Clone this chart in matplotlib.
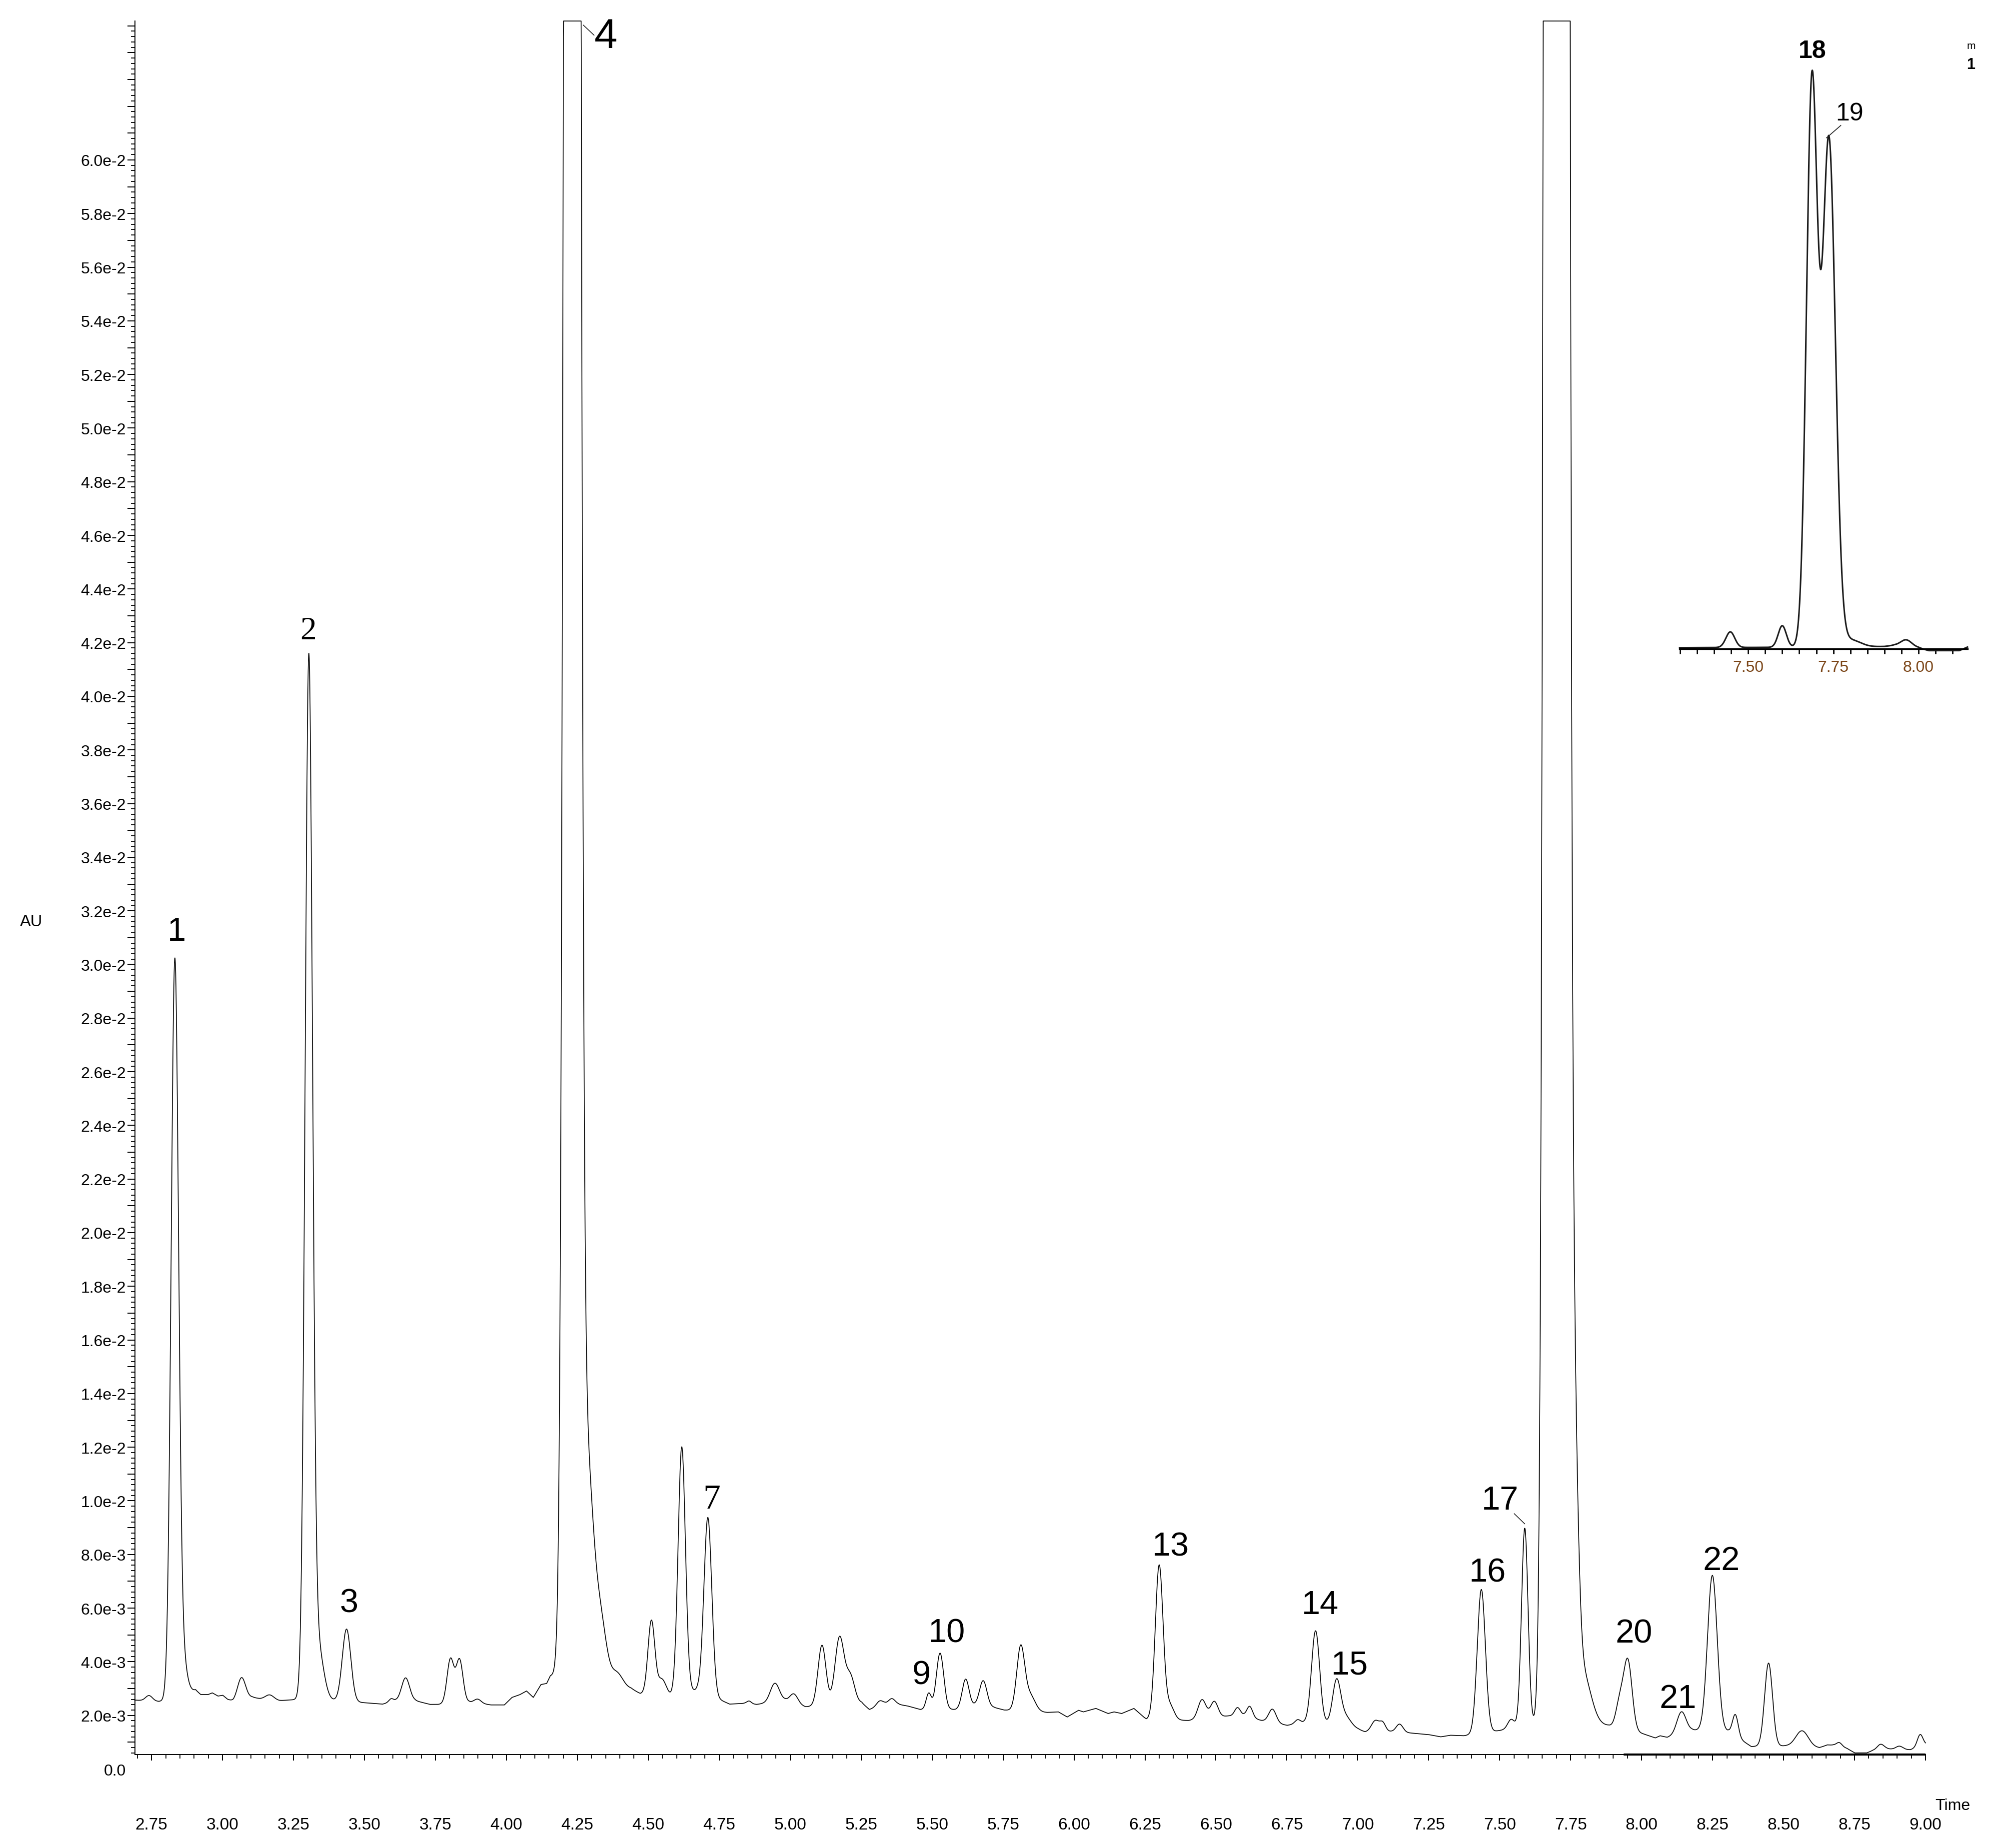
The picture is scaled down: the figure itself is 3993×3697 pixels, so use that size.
import numpy as np
import matplotlib
matplotlib.use("Agg")
import matplotlib.pyplot as plt
from matplotlib.ticker import MultipleLocator, FuncFormatter

plt.rcParams['font.family'] = ['Liberation Sans', 'DejaVu Sans']

# ---------------- data (absorbance in 1e-3 AU, time in min) ----------------
baseline_t = [2.6908, 2.775, 2.81, 2.85, 2.883, 2.905, 2.923, 2.95, 2.964, 2.984, 3.001, 3.018, 3.038,
              3.105, 3.132, 3.20, 3.26, 3.30, 3.395, 3.516, 3.564, 3.611, 3.678, 3.731, 3.761, 3.869,
              3.946, 3.993, 4.020, 4.047, 4.071, 4.095, 4.122, 4.142, 4.155, 4.175, 4.30, 4.44, 4.472,
              4.579, 4.674, 4.787, 4.841, 4.882, 4.983, 5.054, 5.252, 5.279, 5.333, 5.380, 5.414, 5.458,
              5.583, 5.651, 5.717, 5.754, 5.905, 5.945, 5.976, 6.016, 6.033, 6.077, 6.120, 6.141, 6.168,
              6.211, 6.255, 6.404, 6.542, 6.599, 6.660, 6.751, 6.811, 6.895, 7.002, 7.026, 7.117, 7.201,
              7.251, 7.292, 7.326, 7.373, 7.508, 7.60, 7.882, 8.006, 8.048, 8.065, 8.090, 8.177, 8.306,
              8.386, 8.508, 8.626, 8.654, 8.675, 8.723, 8.751, 8.793, 8.814, 8.863, 8.946, 9.0]
baseline_v = [2.57, 2.52, 2.55, 2.70, 2.83, 2.95, 2.78, 2.78, 2.84, 2.72, 2.75, 2.60, 2.52,
              2.68, 2.62, 2.55, 2.59, 2.60, 2.55, 2.46, 2.42, 2.55, 2.55, 2.41, 2.41, 2.50,
              2.39, 2.39, 2.67, 2.77, 2.91, 2.67, 3.15, 3.19, 3.47, 3.50, 3.20, 3.00, 2.81,
              2.72, 2.95, 2.42, 2.45, 2.41, 2.55, 2.32, 2.47, 2.22, 2.40, 2.41, 2.35, 2.22,
              2.22, 2.38, 2.30, 2.20, 2.11, 2.13, 1.94, 2.19, 2.13, 2.26, 2.07, 2.13, 2.07,
              2.26, 1.85, 1.81, 1.98, 2.00, 1.81, 1.63, 1.73, 1.70, 1.48, 1.38, 1.40, 1.33,
              1.28, 1.20, 1.26, 1.24, 1.45, 1.60, 1.62, 1.31, 1.16, 1.24, 1.18, 1.45, 1.40,
              0.84, 0.86, 0.79, 0.90, 0.89, 0.77, 0.60, 0.60, 0.69, 0.75, 0.72, 0.90]

peak_rt = [2.741, 2.832, 2.860, 3.067, 3.166, 3.304, 3.335, 3.437, 3.594, 3.645, 3.803, 3.835, 3.899,
           4.232, 4.283, 4.330, 4.390, 4.511, 4.548, 4.618, 4.710, 4.855, 4.946, 5.013, 5.112, 5.174,
           5.212, 5.316, 5.358, 5.488, 5.528, 5.618, 5.680, 5.812, 5.845, 6.300, 6.337, 6.451, 6.494,
           6.576, 6.619, 6.699, 6.788, 6.851, 6.925, 6.955, 7.062, 7.088, 7.147, 7.435, 7.540, 7.588,
           7.700, 7.760, 7.790, 7.922, 7.951, 8.140, 8.249, 8.330, 8.447, 8.565, 8.696, 8.842, 8.908,
           8.981]
peak_height = [0.20, 27.4, 1.2, 0.82, 0.18, 38.4, 2.0, 2.7, 0.12, 0.85, 1.65, 1.6, 0.15,
               325.0, 8.0, 2.4, 0.5, 2.75, 0.6, 9.2, 6.6, 0.10, 0.7, 0.35, 2.25, 2.5,
               1.0, 0.2, 0.22, 0.6, 2.1, 1.05, 0.95, 2.35, 0.6, 5.75, 0.55, 0.72, 0.6,
               0.3, 0.4, 0.5, 0.15, 3.44, 1.6, 0.4, 0.42, 0.3, 0.3, 5.36, 0.35, 7.4,
               1226.0, 10.0, 2.0, 0.9, 2.6, 0.8, 5.8, 0.8, 3.1, 0.6, 0.15, 0.2, 0.12,
               0.45]
peak_width = [0.012, 0.013, 0.015, 0.014, 0.015, 0.0129, 0.020, 0.015, 0.008, 0.014, 0.012, 0.012, 0.012,
              0.017, 0.022, 0.022, 0.020, 0.012, 0.015, 0.0129, 0.0138, 0.008, 0.016, 0.014, 0.014, 0.016,
              0.015, 0.012, 0.012, 0.009, 0.013, 0.012, 0.013, 0.014, 0.018, 0.0137, 0.015, 0.014, 0.013,
              0.010, 0.010, 0.013, 0.010, 0.0143, 0.014, 0.020, 0.014, 0.010, 0.012, 0.0143, 0.012, 0.0115,
              0.0194, 0.015, 0.030, 0.013, 0.015, 0.016, 0.017, 0.010, 0.0139, 0.022, 0.010, 0.012, 0.012,
              0.010]

peak_labels = ["1", "2", "3", "4", "7", "9", "10", "13", "14", "15", "16", "17", "20", "21", "22"]
label_t = [2.838, 3.3016, 3.446, 4.350, 4.723, 5.462, 5.552, 6.340, 6.867, 6.972, 7.457, 7.501, 7.972, 8.128, 8.281]
label_v = [31.35, 42.58, 6.31, 64.74, 10.2, 3.62, 5.19, 8.42, 6.25, 3.99, 7.44, 10.13, 5.17, 2.74, 7.88]

# inset (relative units)
inset_base_t = [7.2985, 7.85, 7.90, 7.93, 8.00, 8.03, 8.12, 8.144]
inset_base_v = [0.002, 0.003, 0.004, 0.006, 0.002, -0.003, -0.003, 0.003]
inset_rt = [7.4475, 7.600, 7.687, 7.737, 7.800, 7.964]
inset_height = [0.026, 0.036, 0.934, 0.845, 0.012, 0.011]
inset_width = [0.013, 0.012, 0.016, 0.019, 0.030, 0.016]

# ---------------- figure ----------------
W, H = 3993, 3698
fig = plt.figure(figsize=(W / 100, H / 100), dpi=100)

x_lo, x_hi = 2.6908, 9.0
y_lo, y_hi = 0.00055, 0.06519
ax_l, ax_r, ax_b, ax_t = 269.6, 3852.0, 3510.5, 42.5
ax = fig.add_axes([ax_l / W, 1 - ax_b / H, (ax_r - ax_l) / W, (ax_b - ax_t) / H])
ax.set_xlim(x_lo, x_hi)
ax.set_ylim(y_lo, y_hi)

t = np.linspace(x_lo, x_hi, 12000)
sig = np.interp(t, baseline_t, baseline_v)
for rt, h, w in zip(peak_rt, peak_height, peak_width):
    sig = sig + h * np.exp(-0.5 * ((t - rt) / w) ** 2)
au = np.minimum(sig * 1e-3, y_hi - 0.00001)
ax.plot(t, au, color='black', lw=1.2, clip_on=False)

# axes styling
for s in ['top', 'right']:
    ax.spines[s].set_visible(False)
for s in ['left', 'bottom']:
    ax.spines[s].set_linewidth(1.4)

ax.yaxis.set_major_locator(MultipleLocator(0.001))
ax.yaxis.set_minor_locator(MultipleLocator(0.0002))


def yfmt(v, pos):
    k = int(round(v * 1000))
    if k % 2 != 0 or k < 2 or k > 60:
        return ''
    if k < 10:
        return f"{k}.0e-3"
    return f"{k / 10:.1f}e-2"


ax.yaxis.set_major_formatter(FuncFormatter(yfmt))
ax.xaxis.set_major_locator(MultipleLocator(0.25))
ax.xaxis.set_minor_locator(MultipleLocator(0.05))
ax.xaxis.set_major_formatter(FuncFormatter(lambda v, p: f"{v:.2f}"))

ax.tick_params(axis='y', which='major', direction='out', length=10.8, width=1.4, labelsize=23, pad=1.9)
ax.tick_params(axis='y', which='minor', direction='out', length=5.5, width=1.3)
ax.tick_params(axis='x', which='major', direction='out', length=8.6, width=1.4, labelsize=24, pad=81.7)
ax.tick_params(axis='x', which='minor', direction='out', length=5.5, width=1.3)

ax.annotate('0.0', xy=(0, 0.0), xycoords=('axes fraction', 'data'), xytext=(-12.7, 0),
            textcoords='offset points', ha='right', va='center_baseline', fontsize=23,
            annotation_clip=False)

# thicker baseline segment at the end
ax.plot([7.937, 9.0], [y_lo, y_lo], color='black', lw=3.0, clip_on=False, solid_capstyle='butt')

fig.text(62.3 / W, 1 - 1845 / H, 'AU', fontsize=23.5, ha='center', va='center')
fig.text(3906 / W, 1 - 3613 / H, 'Time', fontsize=23, ha='center', va='center')

# peak labels
serif = ['Liberation Serif', 'DejaVu Serif']
for lab, lt, lv in zip(peak_labels, label_t, label_v):
    fs = 48
    fam = ['Liberation Sans', 'DejaVu Sans']
    if lab == '4':
        fs = 60
    if lab in ('2', '7'):
        fam = serif
        fs = 50 if lab == '7' else 47
    ax.annotate(lab, xy=(lt, lv * 1e-3), xytext=(0, -0.358 * fs), textcoords='offset points',
                ha='center', va='baseline', fontsize=fs, family=fam, annotation_clip=False)

ax.plot([4.271, 4.309], [65.03e-3, 64.65e-3], color='black', lw=1.0, clip_on=False)
ax.plot([7.551, 7.588], [9.52e-3, 9.14e-3], color='black', lw=1.0)

# ---------------- inset ----------------
in_l, in_r, in_b, in_t = 3360.0, 3936.0, 1299.0, 100.0
axi = fig.add_axes([in_l / W, 1 - in_b / H, (in_r - in_l) / W, (in_b - in_t) / H])
axi.patch.set_alpha(0)
axi.set_xlim(7.2985, 8.144)
axi.set_ylim(0, 1)
ti = np.linspace(7.2985, 8.144, 4000)
si = np.interp(ti, inset_base_t, inset_base_v)
for rt, h, w in zip(inset_rt, inset_height, inset_width):
    si = si + h * np.exp(-0.5 * ((ti - rt) / w) ** 2)
axi.plot(ti, si, color='#1a1a1a', lw=2.2, clip_on=False)
for s in ['top', 'right', 'left']:
    axi.spines[s].set_visible(False)
axi.spines['bottom'].set_linewidth(2.5)
axi.set_yticks([])
axi.xaxis.set_major_locator(MultipleLocator(0.25))
axi.xaxis.set_minor_locator(MultipleLocator(0.05))
axi.xaxis.set_major_formatter(FuncFormatter(lambda v, p: f"{v:.2f}"))
axi.tick_params(axis='x', which='major', direction='out', length=7, width=2, labelsize=23,
                pad=9, labelcolor='#7a4416')
axi.tick_params(axis='x', which='minor', direction='out', length=7, width=2)

axi.annotate('18', xy=(7.688, 1.0015), xytext=(0, -0.358 * 36), textcoords='offset points',
             ha='center', va='baseline', fontsize=36, fontweight='bold', annotation_clip=False)
axi.annotate('19', xy=(7.798, 0.897), xytext=(0, -0.358 * 36), textcoords='offset points',
             ha='center', va='baseline', fontsize=36, annotation_clip=False)
axi.plot([7.730, 7.772], [0.8526, 0.8733], color='#1a1a1a', lw=1.2, clip_on=False)

fig.text(3943 / W, 1 - 92 / H, 'm', fontsize=15, ha='center', va='center')
fig.text(3943 / W, 1 - 130 / H, '1', fontsize=22, fontweight='bold', ha='center', va='center')

fig.savefig('out.png', dpi=100, facecolor='white')
